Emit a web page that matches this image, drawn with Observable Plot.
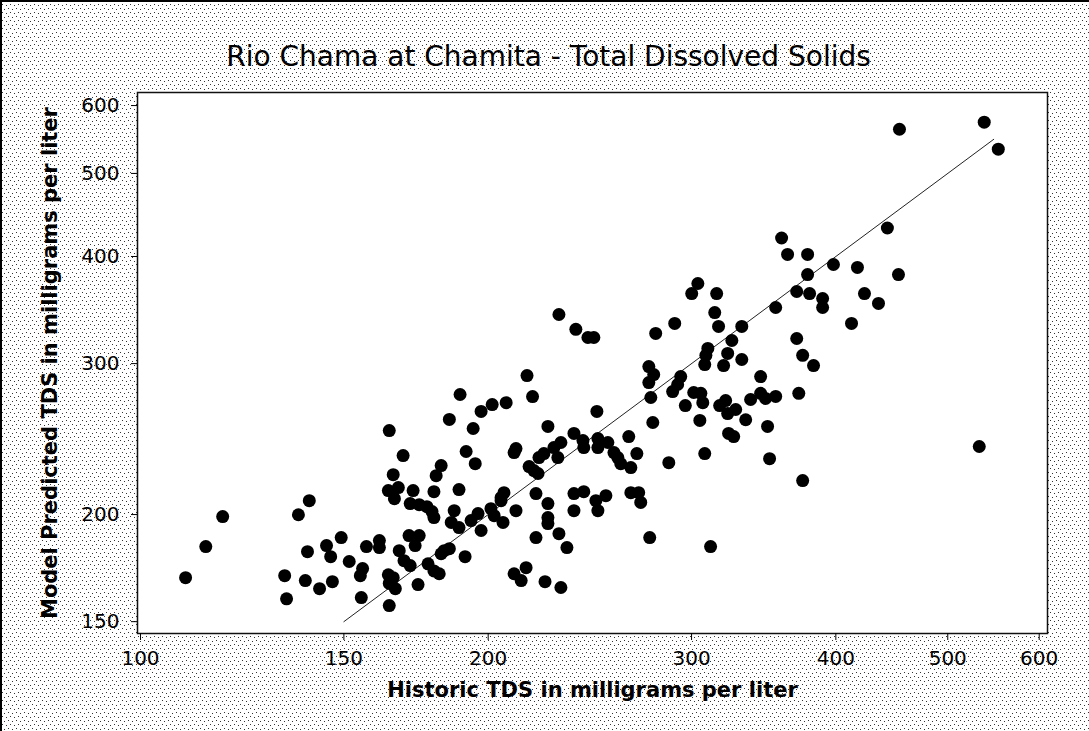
<!DOCTYPE html>
<html>
<head>
<meta charset="utf-8">
<script src="https://cdn.jsdelivr.net/npm/d3@7"></script>
<script src="https://cdn.jsdelivr.net/npm/@observablehq/plot@0.6"></script>
<style>
  html, body { margin: 0; padding: 0; }
  body {
    width: 1089px; height: 731px; overflow: hidden; box-sizing: border-box;
    border-left: 2px solid #000; border-top: 2px solid #000;
    background-color: #fff;
    background-image: url("data:image/svg+xml;utf8,<svg xmlns='http://www.w3.org/2000/svg' width='8' height='8'><rect x='0' y='0' width='1' height='1' fill='%23333'/><rect x='4' y='1' width='1' height='1' fill='%23333'/><rect x='2' y='4' width='1' height='1' fill='%23333'/><rect x='6' y='5' width='1' height='1' fill='%23333'/></svg>");
  }
  #chart { position: absolute; left: 0; top: 0; }
</style>
</head>
<body>
<div id="chart"></div>
<script>
const title = "Rio Chama at Chamita - Total Dissolved Solids";
const xLabel = "Historic TDS in milligrams per liter";
const yLabel = "Model Predicted TDS in milligrams per liter";
const xTicks = [100, 150, 200, 300, 400, 500, 600];
const yTicks = [150, 200, 300, 400, 500, 600];

const historic = [109.4,113.9,117.8,133.3,133.8,137.0,140.0,139.5,138.9,142.9,146.6,144.9,146.1,149.2,151.6,156.9,161.0,161.0,155.7,155.0,155.3,164.2,164.2,168.8,165.5,163.9,167.2,165.9,163.9,165.5,164.2,166.2,167.5,169.1,171.2,170.8,172.9,173.9,172.2,171.2,174.3,177.0,178.8,179.5,174.3,179.5,230.3,238.2,244.0,246.9,279.3,290.1,216.1,218.5,189.1,197.2,201.6,207.3,185.1,194.1,225.3,248.4,275.5,278.2,275.5,276.6,277.7,293.6,291.8,288.9,301.3,305.6,306.8,296.3,305.0,286.7,191.4,194.9,211.4,210.6,182.1,180.3,217.0,219.1,220.9,221.3,223.5,228.0,231.2,229.8,237.3,241.6,242.0,248.9,248.9,253.9,257.0,259.0,260.5,265.8,264.7,269.0,188.7,206.4,205.2,220.0,237.3,242.0,225.3,225.3,225.3,237.3,247.9,252.9,248.9,265.8,270.0,271.1,186.9,185.8,188.7,193.3,196.0,197.2,201.1,202.4,205.2,206.0,211.4,183.2,185.1,182.1,191.0,220.0,230.3,234.0,276.0,177.4,179.5,181.4,210.6,215.7,213.6,224.0,231.2,359.0,363.3,378.1,378.1,398.1,417.6,443.3,453.2,423.5,435.5,370.0,379.6,389.6,389.6,354.8,412.7,303.8,300.1,315.4,314.2,316.6,331.6,325.1,309.9,308.7,308.0,322.4,319.8,331.6,370.0,374.4,382.6,344.3,371.5,317.3,321.1,322.4,327.6,337.5,344.3,347.7,354.8,334.2,349.1,323.0,326.3,308.0,350.5,374.4,532.4,311.6,454.1,537.7,553.0];

const predicted = [168.8,183.5,198.9,169.7,159.5,199.9,207.6,181.0,167.5,163.9,167.0,184.0,178.6,188.0,176.3,183.5,186.5,183.0,173.0,169.7,160.0,156.6,250.6,234.3,222.6,213.3,215.0,208.7,170.1,168.8,166.2,163.9,181.5,176.7,174.4,189.0,184.0,165.7,213.3,206.0,205.4,204.3,201.6,198.4,189.0,212.7,342.3,328.9,321.8,321.8,325.3,334.2,290.5,274.6,276.1,263.8,268.7,270.1,258.2,252.0,253.4,263.8,297.6,291.3,285.1,273.9,256.1,289.7,283.6,278.3,277.6,277.0,270.1,268.0,257.5,229.9,236.9,229.3,238.8,236.2,228.1,222.0,227.5,225.1,223.3,233.1,235.6,239.4,242.7,233.1,248.7,244.0,239.4,245.3,239.4,242.7,236.2,233.1,229.3,226.9,246.6,235.6,213.9,212.1,209.3,211.6,211.6,212.7,206.0,198.4,195.2,202.1,207.6,210.4,202.1,212.1,212.1,206.6,202.1,195.8,193.1,196.8,200.5,191.6,203.2,199.4,207.6,195.8,202.1,181.5,182.5,180.0,178.6,188.0,190.0,183.0,188.0,175.2,171.9,170.6,170.6,173.4,167.5,167.0,164.4,420.4,402.2,402.2,381.0,391.5,388.4,431.8,381.0,362.1,352.6,364.1,362.1,357.3,348.8,348.8,334.2,372.0,362.1,362.1,344.1,331.5,331.5,319.2,312.5,306.7,299.2,308.3,298.4,303.3,320.9,306.7,298.4,289.7,277.0,268.0,271.6,262.3,265.2,272.4,277.0,273.2,274.7,258.0,253.4,248.7,246.6,235.6,232.4,219.1,240.1,183.5,563.0,573.8,533.7];

// reference line y = x
const lineHistoric = [150, 548];
const linePredicted = [150, 548];

const n = Math.min(historic.length, predicted.length);
const points = d3.range(n).map(i => ({h: historic[i], p: predicted[i]}));
const refLine = lineHistoric.map((h, i) => ({h, p: linePredicted[i]}));

const chart = Plot.plot({
  width: 1089,
  height: 731,
  marginLeft: 137,
  marginRight: 42,
  marginTop: 92,
  marginBottom: 98,
  style: {background: "transparent", fontFamily: "DejaVu Sans, Verdana, sans-serif", fontSize: "20px", color: "#000", overflow: "visible"},
  x: {type: "log", domain: [99.4, 610]},
  y: {type: "log", domain: [145.3, 621.4]},
  marks: [
    Plot.frame({fill: "white", stroke: null}),
    Plot.line(refLine, {x: "h", y: "p", stroke: "#222", strokeWidth: 1}),
    Plot.dot(points, {x: "h", y: "p", r: 6.5, fill: "black", stroke: null}),
    Plot.frame({stroke: "#111", strokeWidth: 1.5}),
    Plot.axisX({ticks: xTicks, tickFormat: d => String(d), tickSize: 7, tickPadding: 10, label: null, fontSize: 20}),
    Plot.axisY({ticks: yTicks, tickFormat: d => String(d), tickSize: 6, tickPadding: 12, label: null, fontSize: 20}),
    Plot.text([title], {frameAnchor: "top", dx: -44, dy: -35, fontSize: 28, fill: "black", lineAnchor: "middle"}),
    Plot.text([xLabel], {frameAnchor: "bottom", dy: 57, fontSize: 21, fontWeight: "bold", fill: "black", lineAnchor: "middle"}),
    Plot.text([yLabel], {frameAnchor: "left", dx: -87, rotate: -90, fontSize: 21, fontWeight: "bold", fill: "black", lineAnchor: "middle", textAnchor: "middle"})
  ]
});
document.getElementById("chart").appendChild(chart);
</script>
</body>
</html>
